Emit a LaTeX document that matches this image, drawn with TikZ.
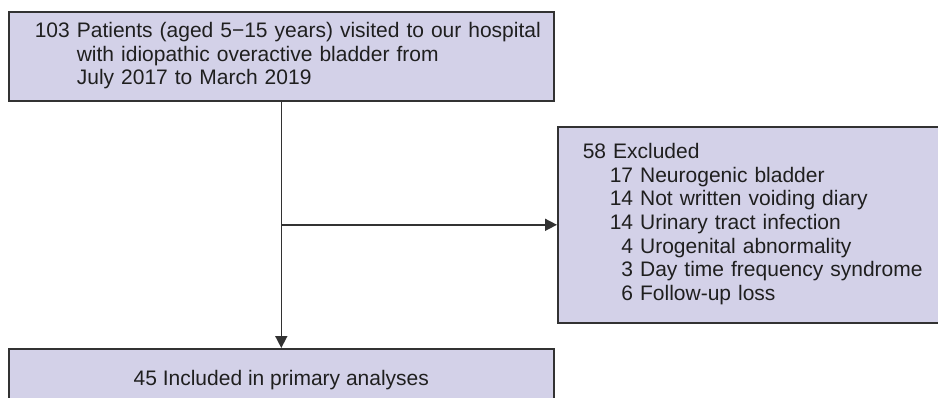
\documentclass[tikz,border=0pt]{standalone}
\usepackage{fontspec}
\setmainfont{Liberation Sans}
\usetikzlibrary{arrows.meta}
\definecolor{boxfill}{RGB}{211,209,232}
\definecolor{boxline}{RGB}{50,50,50}

\begin{document}
\begin{tikzpicture}[x=1pt, y=-1pt,
        box/.style={draw=boxline, line width=1.6pt, fill=boxfill, anchor=north west,
            inner sep=0pt, font=\fontsize{21}{23.7}\selectfont, text=black!88},
        arr/.style={draw=boxline, line width=1.6pt, -{Triangle[length=12pt, width=12pt]}}]
        \useasboundingbox (0,0) rectangle (938,397);

        % Enrolled patients
        \node[box, minimum width=545pt, minimum height=89pt, inner xsep=26pt,
            text width=493pt, align=left] (enrol) at (8,11)
            {103 \begin{tabular}[t]{@{}l@{}}Patients (aged 5−15 years) visited to our hospital\\
            with idiopathic overactive bladder from\\ July 2017 to March 2019\end{tabular}};

        % Excluded patients
        \node[box, minimum width=440pt, minimum height=196pt, inner xsep=25pt,
            text width=390pt, align=left] (excl) at (557,126)
            {\begin{tabular}{@{\hspace{27pt}}r@{ }l@{}}
            \multicolumn{2}{@{}l@{}}{58 Excluded}\\
            17 & Neurogenic bladder\\
            14 & Not written voiding diary\\
            14 & Urinary tract infection\\
            4 & Urogenital abnormality\\
            3 & Day time frequency syndrome\\
            6 & Follow-up loss
            \end{tabular}};

        % Included patients
        \node[box, minimum width=545pt, minimum height=62pt] (incl) at (8,348)
            {45 Included in primary analyses};

        % Connectors
        \draw[arr] (enrol.south) -- (incl.north);
        \coordinate (split) at (enrol.south |- excl.west);
        \draw[arr] (split) -- (excl.west);
    \end{tikzpicture}
\end{document}
